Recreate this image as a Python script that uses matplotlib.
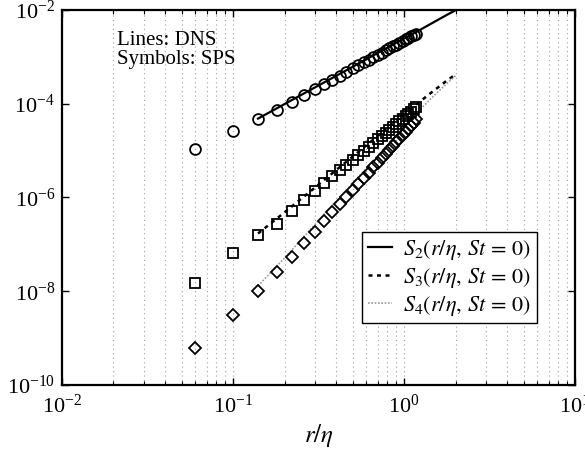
import matplotlib
matplotlib.use('Agg')
import matplotlib.pyplot as plt
from matplotlib.ticker import LogLocator, NullFormatter, FixedLocator

plt.rcParams['font.family'] = ['Liberation Serif', 'DejaVu Serif']
plt.rcParams['mathtext.fontset'] = 'stix'

# SPS symbols, r/eta bins
r_sps = [0.06, 0.10, 0.14, 0.18, 0.22, 0.26, 0.30, 0.34, 0.38, 0.42, 0.46, 0.50, 0.54, 0.58, 0.62,
         0.66, 0.70, 0.74, 0.78, 0.82, 0.86, 0.90, 0.94, 0.98, 1.02, 1.06, 1.10, 1.14, 1.18]
s2_sps = [1.1e-5, 2.6e-5, 4.8e-5, 7.5e-5, 1.1e-4, 1.52e-4, 2.03e-4, 2.6e-4, 3.25e-4, 3.97e-4,
          4.76e-4, 5.63e-4, 6.56e-4, 7.57e-4, 8.65e-4, 9.8e-4, 1.1e-3, 1.23e-3, 1.37e-3, 1.51e-3,
          1.66e-3, 1.82e-3, 1.99e-3, 2.16e-3, 2.34e-3, 2.53e-3, 2.72e-3, 2.92e-3, 3.13e-3]
s3_sps = [1.5e-8, 6.4e-8, 1.6e-7, 2.75e-7, 5.2e-7, 9.0e-7, 1.38e-6, 2.0e-6, 2.8e-6, 3.78e-6,
          4.96e-6, 6.4e-6, 8.0e-6, 9.95e-6, 1.22e-5, 1.47e-5, 1.75e-5, 2.07e-5, 2.42e-5, 2.81e-5,
          3.24e-5, 3.72e-5, 4.24e-5, 4.8e-5, 5.41e-5, 6.07e-5, 6.79e-5, 7.56e-5, 8.4e-5]
s4_sps = [6.3e-10, 3.1e-9, 1.0e-8, 2.6e-8, 5.5e-8, 1.07e-7, 1.86e-7, 3.07e-7, 4.8e-7, 7.16e-7,
          1.03e-6, 1.44e-6, 1.96e-6, 2.6e-6, 3.4e-6, 4.36e-6, 5.52e-6, 6.9e-6, 8.51e-6, 1.04e-5,
          1.26e-5, 1.51e-5, 1.8e-5, 2.12e-5, 2.49e-5, 2.9e-5, 3.37e-5, 3.88e-5, 4.6e-5]

# DNS lines
r_dns = [0.14, 0.2, 0.3, 0.4, 0.5, 0.6, 0.8, 1.0, 1.2, 1.4, 1.6, 1.8, 2.0]
s2_dns = [4.8e-5, 9.8e-5, 2.2e-4, 3.9e-4, 6.1e-4, 8.8e-4, 1.57e-3, 2.45e-3, 3.5e-3, 4.8e-3,
          6.3e-3, 8.0e-3, 9.8e-3]
s3_dns = [1.7e-7, 4.8e-7, 1.6e-6, 3.8e-6, 7.4e-6, 1.28e-5, 3.0e-5, 5.9e-5, 1.01e-4, 1.58e-4,
          2.3e-4, 3.2e-4, 4.2e-4]
s4_dns = [1.3e-8, 5.1e-8, 2.6e-7, 8.2e-7, 2.0e-6, 4.1e-6, 1.3e-5, 3.2e-5, 6.6e-5, 1.17e-4,
          1.87e-4, 2.8e-4, 3.9e-4]

fig = plt.figure(figsize=(5.85, 4.49), dpi=100)
ax = fig.add_axes([0.106, 0.1425, 0.877, 0.8355])

l2, = ax.plot(r_dns, s2_dns, color='black', linewidth=1.6, linestyle='-')
l3, = ax.plot(r_dns, s3_dns, color='black', linewidth=1.8, linestyle=(0, (1.6, 1.8)))
l4, = ax.plot(r_dns, s4_dns, color='#9a9a9a', linewidth=1.2, linestyle=(0, (1, 1)))

mk = dict(linestyle='none', markerfacecolor='none', markeredgecolor='black', markeredgewidth=1.3)
ax.plot(r_sps, s2_sps, marker='o', markersize=7.8, **mk)
ax.plot(r_sps, s3_sps, marker='s', markersize=6.7, **mk)
ax.plot(r_sps, s4_sps, marker='D', markersize=6.2, **mk)

ax.set_xscale('log')
ax.set_yscale('log')
ax.set_xlim(1e-2, 1e1)
ax.set_ylim(1e-10, 1e-2)

ax.xaxis.set_major_locator(LogLocator(base=10))
ax.xaxis.set_minor_locator(LogLocator(base=10, subs=range(2, 10)))
ax.xaxis.set_minor_formatter(NullFormatter())
ax.yaxis.set_major_locator(FixedLocator([1e-10, 1e-8, 1e-6, 1e-4, 1e-2]))
ax.yaxis.set_minor_locator(FixedLocator([]))

ax.tick_params(which='both', direction='in', top=True, right=True, labelsize=16)
ax.tick_params(which='major', length=5, width=1.0)
ax.tick_params(which='minor', length=3, width=0.8)
ax.tick_params(axis='x', pad=7)
ax.tick_params(axis='y', pad=5)
ax.xaxis.grid(True, which='both', linestyle=(0, (1, 3)), color='#a0a0a0', linewidth=0.8)
ax.set_axisbelow(True)
for sp in ax.spines.values():
    sp.set_linewidth(1.6)

ax.set_xlabel(r'$r/\eta$', fontsize=18, labelpad=3)

ax.text(0.107, 0.945, 'Lines: DNS\nSymbols: SPS', transform=ax.transAxes,
        fontsize=15, va='top', ha='left', linespacing=1.0)

leg = ax.legend([l2, l3, l4],
                [r'$S_2(r/\eta,\,St\,=\,0)$', r'$S_3(r/\eta,\,St\,=\,0)$', r'$S_4(r/\eta,\,St\,=\,0)$'],
                loc='upper left', bbox_to_anchor=(0.585, 0.408), fontsize=16,
                handlelength=1.1, handletextpad=0.5, borderpad=0.25, labelspacing=0.18,
                fancybox=False, framealpha=1, edgecolor='black', borderaxespad=0)
leg.get_frame().set_linewidth(1.0)

fig.savefig('out.png', dpi=100)
